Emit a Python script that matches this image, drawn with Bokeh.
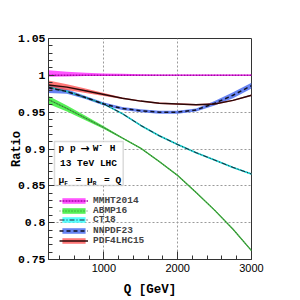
from bokeh.plotting import figure
from bokeh.models import FixedTicker, Legend, LegendItem, Label, BoxAnnotation, Range1d
from bokeh.embed import file_html
from bokeh.resources import INLINE

# ---------------- data ----------------
Q = [250, 500, 750, 1000, 1250, 1500, 1750, 2000, 2250, 2500, 2750, 3000]

mmht_c  = [1.000, 1.000, 1.000, 1.000, 1.000, 1.000, 1.000, 1.000, 1.000, 1.000, 1.000, 1.000]
mmht_hi = [1.007, 1.005, 1.0035, 1.0025, 1.002, 1.0015, 1.0012, 1.001, 1.001, 1.001, 1.001, 1.001]
mmht_lo = [0.998, 0.9985, 0.999, 0.999, 0.9992, 0.9993, 0.9993, 0.9993, 0.9993, 0.9993, 0.9993, 0.9993]

abmp_c  = [0.967, 0.955, 0.942, 0.929, 0.915, 0.901, 0.883, 0.864, 0.841, 0.817, 0.791, 0.762]
abmp_hi = [0.972, 0.959, 0.945, 0.931, 0.916, 0.902, 0.884, 0.865, 0.842, 0.818, 0.792, 0.763]
abmp_lo = [0.961, 0.951, 0.939, 0.927, 0.914, 0.900, 0.882, 0.863, 0.840, 0.816, 0.790, 0.761]

ct18_c  = [0.984, 0.978, 0.970, 0.961, 0.948, 0.932, 0.918, 0.906, 0.895, 0.885, 0.875, 0.866]
ct18_hi = [0.985, 0.979, 0.971, 0.962, 0.949, 0.933, 0.919, 0.907, 0.896, 0.886, 0.876, 0.867]
ct18_lo = [0.983, 0.977, 0.969, 0.960, 0.947, 0.931, 0.917, 0.905, 0.894, 0.884, 0.874, 0.865]

nnpdf_c  = [0.983, 0.978, 0.970, 0.961, 0.955, 0.952, 0.950, 0.950, 0.953, 0.962, 0.973, 0.986]
nnpdf_hi = [0.988, 0.981, 0.972, 0.963, 0.957, 0.954, 0.952, 0.952, 0.955, 0.965, 0.977, 0.990]
nnpdf_lo = [0.976, 0.975, 0.968, 0.959, 0.953, 0.950, 0.948, 0.948, 0.951, 0.959, 0.969, 0.982]

pdf4_c  = [0.987, 0.984, 0.979, 0.974, 0.969, 0.965, 0.962, 0.961, 0.960, 0.961, 0.966, 0.973]
pdf4_hi = [0.993, 0.988, 0.982, 0.976, 0.970, 0.966, 0.963, 0.962, 0.961, 0.962, 0.967, 0.974]
pdf4_lo = [0.981, 0.980, 0.976, 0.972, 0.968, 0.964, 0.961, 0.960, 0.959, 0.960, 0.965, 0.972]

x_ticks = [1000, 2000, 3000]
x_tick_labels = ["1000", "2000", "3000"]
y_ticks = [0.75, 0.80, 0.85, 0.90, 0.95, 1.00, 1.05]
y_tick_labels = ["0.75", "0.8", "0.85", "0.9", "0.95", "1", "1.05"]

labels = ["MMHT2014", "ABMP16", "CT18", "NNPDF23", "PDF4LHC15"]

# ---------------- figure ----------------
MONO = "Liberation Mono"
p = figure(width=300, height=300, output_backend="svg", toolbar_location=None,
           x_range=Range1d(250, 3000), y_range=Range1d(0.75, 1.05),
           min_border_left=48, min_border_right=49, min_border_top=38, min_border_bottom=41,
           x_axis_label="Q [GeV]", y_axis_label="Ratio")
p.background_fill_color = "white"
p.border_fill_color = "white"
p.outline_line_color = "#333333"
p.outline_line_width = 1

x_minor = [v for v in range(400, 3000, 200) if v not in x_ticks]
y_minor = [round(0.75 + 0.01 * i, 2) for i in range(31)]
y_minor = [v for v in y_minor if round(v * 20, 6) != round(round(v * 20), 6)]

p.xaxis.ticker = FixedTicker(ticks=x_ticks, minor_ticks=x_minor)
p.yaxis.ticker = FixedTicker(ticks=y_ticks, minor_ticks=y_minor)
p.xaxis.major_label_overrides = dict(zip(x_ticks, x_tick_labels))
p.yaxis.major_label_overrides = dict(zip(y_ticks, y_tick_labels))

for ax in (p.xaxis[0], p.yaxis[0]):
    ax.axis_line_color = "#333333"
    ax.major_tick_line_color = "#333333"
    ax.minor_tick_line_color = "#333333"
    ax.major_tick_out = 0
    ax.minor_tick_out = 0
    ax.minor_tick_in = 4
    ax.major_label_text_color = "black"
    ax.axis_label_text_font = MONO
    ax.axis_label_text_font_style = "bold"
    ax.axis_label_text_color = "black"
p.xaxis.major_tick_in = 8
p.yaxis.major_tick_in = 6
p.xaxis.major_label_text_font = "Liberation Sans"
p.xaxis.major_label_text_font_size = "11px"
p.xaxis.major_label_standoff = 4
p.xaxis.axis_label_text_font_size = "12.5px"
p.xaxis.axis_label_standoff = 8
p.yaxis.major_label_text_font = MONO
p.yaxis.major_label_text_font_style = "bold"
p.yaxis.major_label_text_font_size = "11.5px"
p.yaxis.major_label_standoff = 3
p.yaxis.axis_label_text_font_size = "12px"
p.yaxis.axis_label_standoff = -9

p.xgrid.ticker = FixedTicker(ticks=x_ticks)
p.ygrid.ticker = FixedTicker(ticks=y_ticks)
for g in (p.xgrid[0], p.ygrid[0]):
    g.grid_line_color = "#9a9a9a"
    g.grid_line_dash = "2 2"
    g.grid_line_width = 1

# ---------------- series ----------------
mm_band = p.varea(x=Q, y1=mmht_lo, y2=mmht_hi, fill_color="#ff44ff", fill_alpha=0.9)
ab_band = p.varea(x=Q, y1=abmp_lo, y2=abmp_hi, fill_color="#44ee44", fill_alpha=0.9)
ct_band = p.varea(x=Q, y1=ct18_lo, y2=ct18_hi, fill_color="#44ffff", fill_alpha=0.9)
nn_band = p.varea(x=Q, y1=nnpdf_lo, y2=nnpdf_hi, fill_color="#4d6ef0", fill_alpha=0.85)
pd_band = p.varea(x=Q, y1=pdf4_lo, y2=pdf4_hi, fill_color="#ff5555", fill_alpha=0.8)

mm_line = p.line(Q, mmht_c, line_color="#aa00aa", line_width=1.5, line_dash="2 1")
ab_line = p.line(Q, abmp_c, line_color="#4aa84a", line_width=1.3)
ab_line2 = p.line(Q, abmp_c, line_color="#1f5f1f", line_width=0.8, line_dash="1 2")
ct_line = p.line(Q, ct18_c, line_color="#22cccc", line_width=1.6)
ct_line2 = p.line(Q, ct18_c, line_color="#222233", line_width=1.0, line_dash="5 2 1 2")
nn_line = p.line(Q, nnpdf_c, line_color="#111122", line_width=1.5, line_dash="4 3")
pd_line = p.line(Q, pdf4_c, line_color="#2a0808", line_width=1.5)

# ---------------- legend (one Legend per row for tight spacing) ----------------
leg_renderers = [[mm_band, mm_line], [ab_band, ab_line2], [ct_band, ct_line2],
                 [nn_band, nn_line], [pd_band, pd_line]]
row_bottoms = [53.5, 43.3, 33.6, 23.0, 12.6]
for lab, rends, yb in zip(labels, leg_renderers, row_bottoms):
    lg = Legend(items=[LegendItem(label=lab, renderers=rends)], location=(11, yb))
    lg.background_fill_alpha = 0
    lg.border_line_alpha = 0
    lg.padding = 0
    lg.margin = 0
    lg.spacing = 0
    lg.glyph_width = 29
    lg.glyph_height = 7
    lg.label_height = 7
    lg.label_standoff = 5
    lg.label_text_font = MONO
    lg.label_text_font_style = "bold"
    lg.label_text_font_size = "9.5px"
    p.add_layout(lg)

# ---------------- info box ----------------
p.add_layout(BoxAnnotation(left=331, right=1262, bottom=0.8505, top=0.9102,
                           fill_color="white", fill_alpha=1.0,
                           line_color="#888888", line_width=1.5))
tstyle = dict(text_font_style="bold", text_color="black",
              text_baseline="middle", text_align="left")
CW = 5.7  # character advance (px) of the 9.5px monospace font
row1 = [("p", 0, MONO, "9.5px"), ("p", 2, MONO, "9.5px"), ("\u2192", 3.8, "DejaVu Sans", "11px"),
        ("W", 6, MONO, "9.5px"), ("H", 9, MONO, "9.5px")]
for t, k, f, fs in row1:
    p.add_layout(Label(x=331, y=0.901, x_offset=4 + k * CW, text=t, text_font=f,
                       text_font_size=fs, **tstyle))
p.add_layout(Label(x=331, y=0.901, x_offset=4 + 7 * CW, y_offset=4, text="-", text_font=MONO,
                   text_font_size="7px", **tstyle))
p.add_layout(Label(x=792, y=0.8807, text="13 TeV LHC", text_font=MONO, text_font_style="bold",
                   text_color="black", text_baseline="middle", text_align="center",
                   text_font_size="9.5px"))
row3 = [("\u03bc", 0), ("=", 3), ("\u03bc", 5), ("=", 8), ("Q", 10)]
for t, k in row3:
    p.add_layout(Label(x=331, y=0.8573, x_offset=4 + k * CW, text=t, text_font=MONO,
                       text_font_size="9.5px", **tstyle))
for t, k in [("F", 1), ("R", 6)]:
    p.add_layout(Label(x=331, y=0.8573, x_offset=4 + k * CW, y_offset=-3, text=t, text_font=MONO,
                       text_font_size="6px", **tstyle))

open("out.html", "w").write(file_html(p, INLINE))
